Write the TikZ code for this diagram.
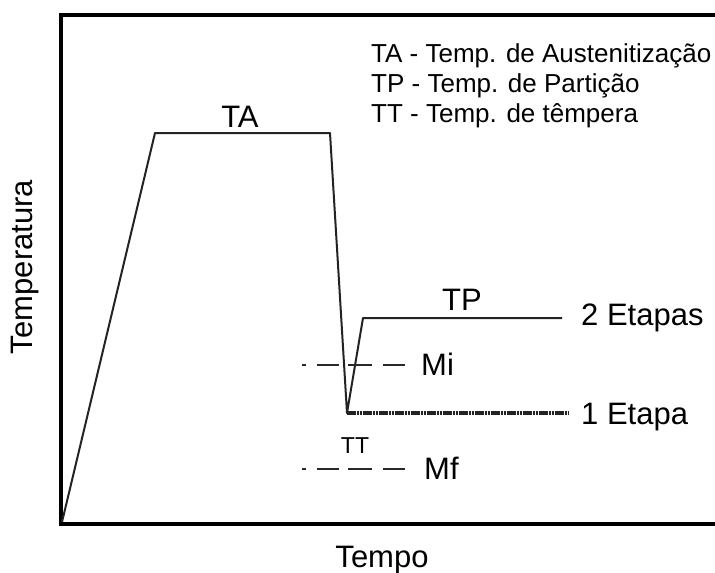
\documentclass[tikz,border=0pt]{standalone}
\usepackage{fontspec}
\setmainfont{Liberation Sans}
\usepackage{tikz}
\definecolor{curve}{RGB}{35,35,35}
\definecolor{mline}{RGB}{40,40,40}

\tikzset{
  lbl/.style={inner sep=0pt, anchor=base, font=\fontsize{31}{34}\selectfont},
  side/.style={lbl, anchor=base west},
  legend/.style={inner sep=0pt, anchor=base west, font=\fontsize{26}{29}\selectfont},
  mtemp/.style={mline, line width=2.2pt, dash pattern=on 4pt off 11pt on 22pt off 9pt on 24pt off 11pt on 22pt},
}

\begin{document}
\begin{tikzpicture}[x=1pt, y=-1pt]
    \useasboundingbox (0,0) rectangle (715,573);
    % frame of the plot
    \draw[line width=3.5pt] (730,15) -- (61,15) -- (61,524) -- (730,524);
    % points of the cycle
    \coordinate (start) at (62,522);
    \coordinate (ta1) at (155,133);
    \coordinate (ta2) at (330,133);
    \coordinate (tt) at (347,413);
    \coordinate (tp1) at (363,318);
    \coordinate (tp2) at (562,318);
    \coordinate (e1) at (568,413);
    \coordinate (mi0) at (302,365);
    \coordinate (mi1) at (405,365);
    \coordinate (mf0) at (302,469);
    \coordinate (mf1) at (405,469);
    \draw[curve, line width=2pt, line join=round] (start) -- (ta1) -- (ta2) -- (tt) -- (tp1) -- (tp2);
    \draw[curve, line width=3.2pt, dash pattern=on 2.5pt off 0.7pt] (tt) -- (e1);
    \draw[mtemp] (mi0) -- (mi1);
    \draw[mtemp] (mf0) -- (mf1);
    % labels
    \node[lbl] (ta) at (240,127) {TA};
    \node[lbl] (tp) at (462,310) {TP};
    \node[lbl, font=\fontsize{23}{26}\selectfont] (ttl) at (355,453) {TT};
    \node[side] (mi) at (421,375) {Mi};
    \node[side] (mf) at (424,479) {Mf};
    \node[side] (dois) at (581,325) {2 Etapas};
    \node[side] (um) at (581,424) {1 Etapa};
    \node[lbl] (tempo) at (382,567) {Tempo};
    \node[lbl, rotate=90, anchor=center] (temperatura) at (25,267) {Temperatura};
    % legend
    \node[legend] (leg1) at (371,62) {TA - Temp. de Austenitização};
    \node[legend] (leg2) at (371,92) {TP - Temp. de Partição};
    \node[legend] (leg3) at (371,122) {TT - Temp. de têmpera};
\end{tikzpicture}
\end{document}
